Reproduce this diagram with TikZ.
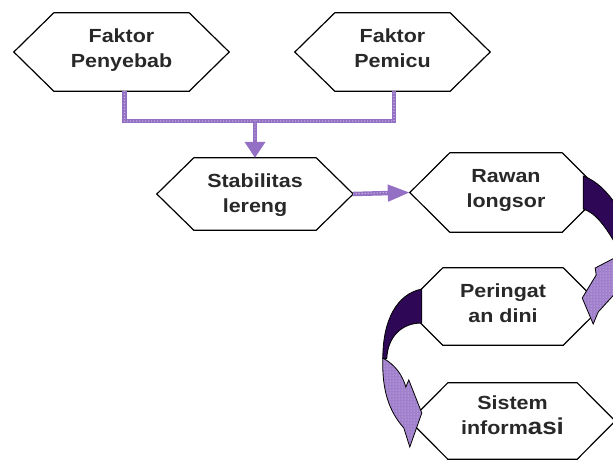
\documentclass[tikz,border=0pt]{standalone}
\usepackage{fontspec}
\setmainfont{Liberation Sans}[FakeStretch=1.13]
\usetikzlibrary{arrows.meta,patterns}
\definecolor{darkpurp}{RGB}{46,8,86}
\definecolor{lilac}{RGB}{160,128,204}
\definecolor{connpurp}{RGB}{148,112,196}
\definecolor{txtgray}{RGB}{40,40,40}
\newcommand\hexagonof[2]{\draw[hexline] (#1.north west) -- (#1.north east) -- ([xshift=#2pt]#1.east) -- (#1.south east) -- (#1.south west) -- ([xshift=-#2pt]#1.west) -- cycle;}
\newcommand\twolines[2]{\raisebox{#1}[\height][\depth]{\begin{tabular}{@{}c@{}}#2\end{tabular}}}
\begin{document}
\begin{tikzpicture}[x=1pt,y=-1pt,
  box/.style={shape=rectangle, inner sep=0pt, text=txtgray,
     font=\fontsize{19}{25}\selectfont\bfseries},
  hexline/.style={draw=black, line width=1.2pt, line join=miter},
  conn/.style={draw=connpurp, line width=4.5pt, line join=miter},
  conndots/.style={draw=white!55!connpurp, line width=1.4pt, dash pattern=on 0pt off 3pt, line cap=round},
  arrowdark/.style={draw=black, line width=0.8pt, fill=darkpurp},
  arrowlight/.style={draw=black, line width=0.8pt, preaction={fill=lilac}, pattern=dots, pattern color=white!65!lilac}
]
\useasboundingbox (0,0) rectangle (613,459);

\node[box, minimum width=135pt, minimum height=78pt] (pen) at (121.5,52) {\twolines{2.5pt}{Faktor\\Penyebab}};
\node[box, minimum width=115pt, minimum height=78pt] (pem) at (392.5,52) {\twolines{2.5pt}{Faktor\\Pemicu}};
\node[box, minimum width=122pt, minimum height=72pt] (stab) at (255,194) {\twolines{-1pt}{Stabilitas\\lereng}};
\node[box, minimum width=112pt, minimum height=79pt] (raw) at (506,192.5) {\twolines{3pt}{Rawan\\longsor}};
\node[box, minimum width=120pt, minimum height=77pt] (per) at (503,306.5) {\twolines{2pt}{Peringat\\an dini}};
\node[box, minimum width=129pt, minimum height=76pt] (sis) at (512.5,421) {\twolines{4pt}{Sistem\\inform{\fontsize{23}{25}\selectfont asi}}};

\hexagonof{pen}{40}
\hexagonof{pem}{40}
\hexagonof{stab}{37}
\hexagonof{raw}{40}
\hexagonof{per}{39}
\hexagonof{sis}{38}

% connectors
\coordinate (j) at (256,121);
\draw[conn] ([xshift=3pt]pen.south) -- ([xshift=3pt]pen.south |- j) -- ([xshift=1.5pt]pem.south |- j) -- ([xshift=1.5pt]pem.south);
\draw[conndots] ([xshift=3pt]pen.south) -- ([xshift=3pt]pen.south |- j) -- ([xshift=1.5pt]pem.south |- j) -- ([xshift=1.5pt]pem.south);
\draw[conn, -{Triangle[length=16pt,width=20pt]}] (stab.north |- j) -- (stab.north);
\draw[conndots] (stab.north |- j) -- ([yshift=18pt]stab.north);
\draw[conn, -{Triangle[length=22pt,width=16pt]}] ([xshift=37pt]stab.east) -- ([xshift=-40pt]raw.west);
\draw[conndots] ([xshift=37pt]stab.east) -- ([xshift=-62pt]raw.west);

% curved arrow Rawan -> Peringat
\begin{scope}[shift={(raw.east)}]
\draw[arrowdark] (21,-16.5) .. controls (35,-11.5) and (45,-0.5) .. (54,12.5) -- (54,52.5) .. controls (44,35.5) and (34,20.5) .. (21,16.5) -- cycle;
\end{scope}
\begin{scope}[shift={(per.east)}]
\draw[arrowlight] (55,-50.5) -- (32,-38.5) -- (33,-31.5) -- (19,-8.5) -- (30,17.5) -- (35,5.5) -- (55,-16.5) -- cycle;
\end{scope}

% curved arrow Peringat -> Sistem
\begin{scope}[shift={(per.west)}]
\draw[arrowdark] (-21,-17.5) .. controls (-46,-12.5) and (-60,13.5) .. (-60,52) -- (-56,52) .. controls (-55,30) and (-41,16.5) .. (-21,16.5) -- cycle;
\end{scope}
\begin{scope}[shift={(sis.west)}]
\draw[arrowlight] (-65,-63) .. controls (-52,-56) and (-45,-45) .. (-42,-34) -- (-39,-41) -- (-26,-8) -- (-38,26) -- (-44,7) .. controls (-58,-9) and (-66,-29) .. (-65,-63) -- cycle;
\end{scope}
\end{tikzpicture}
\end{document}
